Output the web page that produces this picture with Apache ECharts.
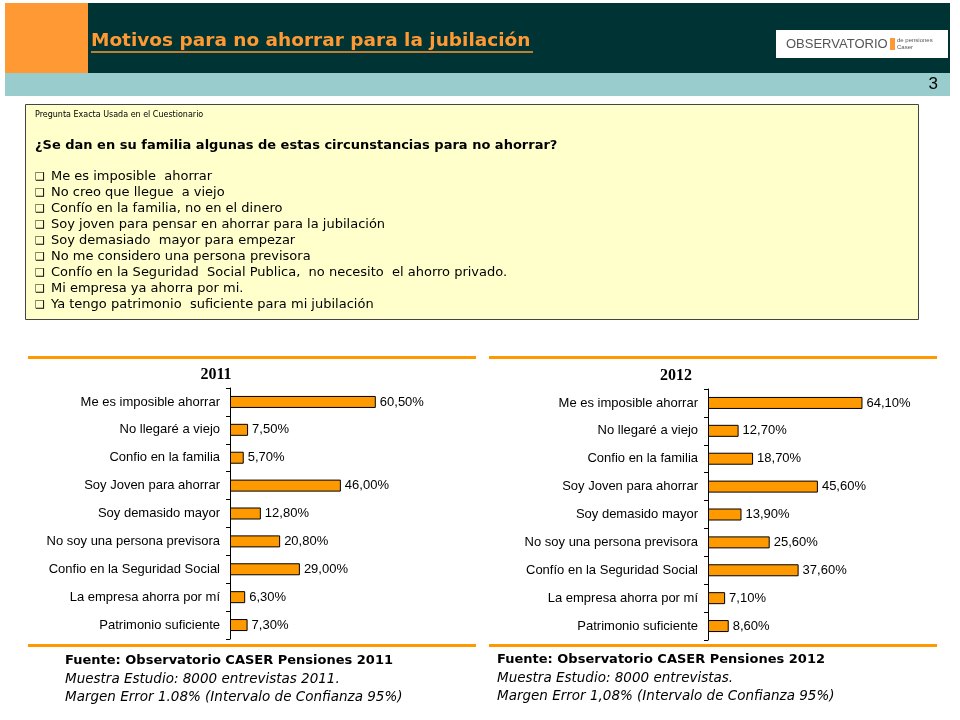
<!DOCTYPE html>
<html><head><meta charset="utf-8">
<script src="https://cdn.jsdelivr.net/npm/echarts@6/dist/echarts.min.js"></script>
<style>html,body{margin:0;padding:0;background:#fff}#c{width:960px;height:720px}</style>
</head><body><div id="c"></div>
<script>
const categories2011 = ["Me es imposible ahorrar","No llegaré a viejo","Confio en la familia","Soy Joven para ahorrar","Soy demasido mayor","No soy una persona previsora","Confio en la Seguridad Social","La empresa ahorra por mí","Patrimonio suficiente"];
const categories2012 = ["Me es imposible ahorrar","No llegaré a viejo","Confio en la familia","Soy Joven para ahorrar","Soy demasido mayor","No soy una persona previsora","Confío en la Seguridad Social","La empresa ahorra por mí","Patrimonio suficiente"];
const values2011 = [60.5, 7.5, 5.7, 46.0, 12.8, 20.8, 29.0, 6.3, 7.3];
const values2012 = [64.1, 12.7, 18.7, 45.6, 13.9, 25.6, 37.6, 7.1, 8.6];
const chartTitles = ["2011", "2012"];
const pageTitle = "Motivos para no ahorrar para la jubilación";
const questionHeader = "Pregunta Exacta Usada en el Cuestionario";
const question = "¿Se dan en su familia algunas de estas circunstancias para no ahorrar?";
const options = ["Me es imposible  ahorrar","No creo que llegue  a viejo","Confío en la familia, no en el dinero","Soy joven para pensar en ahorrar para la jubilación","Soy demasiado  mayor para empezar","No me considero una persona previsora","Confío en la Seguridad  Social Publica,  no necesito  el ahorro privado.","Mi empresa ya ahorra por mi.","Ya tengo patrimonio  suficiente para mi jubilación"];
const sources = [
  ["Fuente: Observatorio CASER Pensiones 2011","Muestra Estudio: 8000 entrevistas 2011.","Margen Error 1.08% (Intervalo de Confianza 95%)"],
  ["Fuente: Observatorio CASER Pensiones 2012","Muestra Estudio: 8000 entrevistas.","Margen Error 1,08% (Intervalo de Confianza 95%)"]
];

const chart = echarts.init(document.getElementById('c'), null, {renderer:'canvas'});
const fmt = p => p.value.toFixed(2).replace('.', ',') + '%';
const ORANGE = '#ff9900';

const graphics = [
  {type:'rect', shape:{x:5,y:3,width:945,height:70}, style:{fill:'#003333'}, silent:true},
  {type:'rect', shape:{x:5,y:3,width:83,height:70}, style:{fill:'#ff9933'}, silent:true},
  {type:'rect', shape:{x:5,y:73,width:945,height:23}, style:{fill:'#99cccc'}, silent:true},
  {type:'text', x:91, y:41, style:{text:pageTitle, fill:'#ff9933', font:'bold 18.5px "DejaVu Sans"', textVerticalAlign:'middle'}},
  {type:'line', shape:{x1:91,y1:52,x2:533,y2:52}, style:{stroke:'#ff9933', lineWidth:1.5}},
  {type:'rect', shape:{x:776,y:30,width:172,height:28}, style:{fill:'#fff'}},
  {type:'text', x:786, y:44, style:{text:'OBSERVATORIO', fill:'#555', font:'13px "Liberation Sans"', textVerticalAlign:'middle'}},
  {type:'rect', shape:{x:890,y:38,width:5,height:12}, style:{fill:'#ff9933'}},
  {type:'text', x:897, y:40, style:{text:'de pensiones', fill:'#555', font:'6px "Liberation Sans"', textVerticalAlign:'middle'}},
  {type:'text', x:897, y:47, style:{text:'Caser', fill:'#555', font:'6px "Liberation Sans"', textVerticalAlign:'middle'}},
  {type:'text', x:938, y:84, style:{text:'3', fill:'#000', font:'17px "Liberation Sans"', textAlign:'right', textVerticalAlign:'middle'}},
  {type:'rect', shape:{x:25.5,y:104.5,width:893,height:215}, style:{fill:'#ffffcc', stroke:'#444', lineWidth:1}},
  {type:'text', x:35, y:115, style:{text:questionHeader, fill:'#000', font:'8px "DejaVu Sans"', textVerticalAlign:'middle'}},
  {type:'text', x:35, y:146, style:{text:question, fill:'#000', font:'bold 13px "DejaVu Sans"', textVerticalAlign:'middle'}},
  {type:'rect', shape:{x:28,y:356,width:448,height:3}, style:{fill:ORANGE}},
  {type:'rect', shape:{x:28,y:644,width:448,height:3}, style:{fill:ORANGE}},
  {type:'rect', shape:{x:489,y:356,width:448,height:3}, style:{fill:ORANGE}},
  {type:'rect', shape:{x:489,y:644,width:448,height:3}, style:{fill:ORANGE}},
  {type:'text', x:216, y:375, style:{text:chartTitles[0], fill:'#000', font:'bold 16px "Liberation Serif"', textAlign:'center', textVerticalAlign:'middle'}},
  {type:'text', x:676, y:376, style:{text:chartTitles[1], fill:'#000', font:'bold 16px "Liberation Serif"', textAlign:'center', textVerticalAlign:'middle'}}
];
options.forEach((t,i)=>{
  graphics.push({type:'text', x:35, y:177+i*16, style:{text:'❑', fill:'#000', font:'11px "DejaVu Sans"', textVerticalAlign:'middle'}});
  graphics.push({type:'text', x:51, y:177+i*16, style:{text:t, fill:'#000', font:'13px "DejaVu Sans"', textVerticalAlign:'middle'}});
});
const srcX = [65, 497], srcY = [661, 660];
sources.forEach((lines,k)=>{
  lines.forEach((t,i)=>{
    graphics.push({type:'text', x:srcX[k], y:srcY[k]+i*18, style:{text:t, fill:'#000', font:(i===0?'bold 13px ':'italic 13.5px ')+'"DejaVu Sans"', textVerticalAlign:'middle'}});
  });
});

function yAx(idx, cats){
  return {type:'category', gridIndex:idx, data:cats, inverse:true,
    axisLine:{lineStyle:{color:'#000', width:1}},
    axisTick:{show:true, length:4, lineStyle:{color:'#000'}},
    axisLabel:{color:'#000', fontSize:13, fontFamily:'Liberation Sans', margin:10}};
}
function xAx(idx){
  return {type:'value', gridIndex:idx, min:0, max:100, show:false, splitLine:{show:false}};
}
function ser(idx, vals){
  return {type:'bar', xAxisIndex:idx, yAxisIndex:idx, data:vals, barWidth:12,
    itemStyle:{color:ORANGE, borderColor:'#000', borderWidth:1},
    label:{show:true, position:'right', distance:4, formatter:fmt, color:'#000', fontSize:13, fontFamily:'Liberation Sans'},
    animation:false};
}

chart.setOption({
  animation:false,
  backgroundColor:'#fff',
  grid:[
    {left:230, top:388, width:241, height:251},
    {left:708, top:389, width:241, height:251}
  ],
  xAxis:[xAx(0), xAx(1)],
  yAxis:[yAx(0, categories2011), yAx(1, categories2012)],
  series:[ser(0, values2011), ser(1, values2012)],
  graphic:graphics
});
</script></body></html>
